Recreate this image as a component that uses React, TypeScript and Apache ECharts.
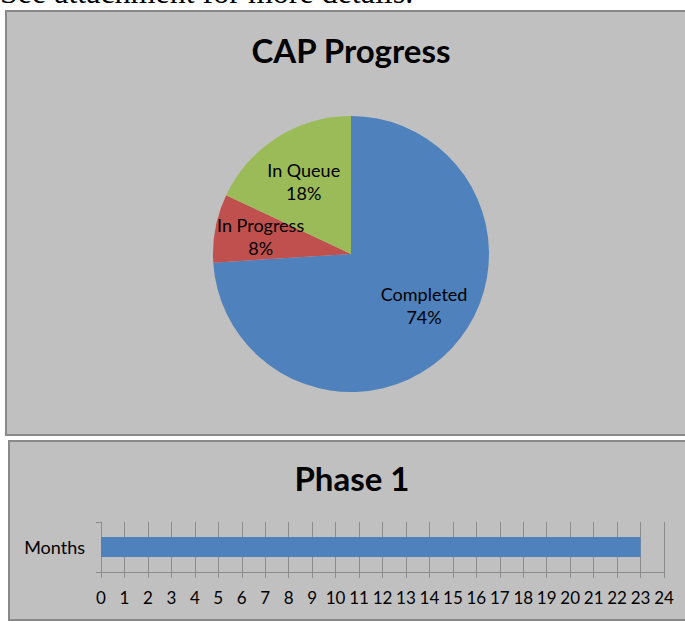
import React, { useEffect, useRef } from "react";
import * as echarts from "echarts";

const headerNote = "See attachment for more details.";
const pieTitle = "CAP Progress";
const pieNames = ["Completed", "In Progress", "In Queue"];
const pieValues = [74, 8, 18];
const pieColors = ["#4F81BD", "#C0504D", "#9BBB59"];
const barTitle = "Phase 1";
const barCategories = ["Months"];
const barValues = [23];
const axisMin = 0;
const axisMax = 24;
const axisStep = 1;

const FONT = "Lato, Carlito, 'Open Sans', sans-serif";
const PANEL = "#C0C0C0";
const BORDER = "#898989";
const GRID = "#8C8C8C";

function labelNudge(name: string): number[] {
  if (name === "Completed") return [6, -11];
  if (name === "In Queue") return [2, 5];
  return [0, 0];
}

export default function App() {
  const ref = useRef<HTMLDivElement>(null);
  useEffect(() => {
    if (!ref.current) return;
    const chart = echarts.init(ref.current, undefined, { renderer: "svg" });
    const pieData = pieNames.map((n, i) => ({
      name: n,
      value: pieValues[i],
      itemStyle: { color: pieColors[i] },
    }));
    const labelData = pieNames.map((n, i) => ({
      name: n,
      value: pieValues[i],
      itemStyle: { color: "rgba(0,0,0,0)" },
      label: { offset: labelNudge(n) },
    }));
    chart.setOption({
      animation: false,
      backgroundColor: "#ffffff",
      graphic: [
        {
          type: "rect",
          z: -10,
          shape: { x: 6, y: 11, width: 720, height: 424 },
          style: { fill: PANEL, stroke: BORDER, lineWidth: 2 },
          silent: true,
        },
        {
          type: "rect",
          z: -10,
          shape: { x: 9, y: 441, width: 720, height: 179 },
          style: { fill: PANEL, stroke: BORDER, lineWidth: 2 },
          silent: true,
        },
        {
          type: "text",
          x: 0,
          y: -8,
          style: {
            text: headerNote,
            font: "32px 'Liberation Serif', 'Times New Roman', serif",
            fill: "#000",
            textAlign: "left",
            textVerticalAlign: "middle",
          },
        },
        {
          type: "text",
          x: 351,
          y: 50,
          style: {
            text: pieTitle,
            font: `bold 33px ${FONT}`,
            fill: "#000",
            textAlign: "center",
            textVerticalAlign: "middle",
          },
        },
        {
          type: "text",
          x: 352,
          y: 478,
          style: {
            text: barTitle,
            font: `bold 33px ${FONT}`,
            fill: "#000",
            textAlign: "center",
            textVerticalAlign: "middle",
          },
        },
      ],
      grid: { left: 101, right: 21, top: 522, height: 50, containLabel: false },
      xAxis: {
        type: "value",
        min: axisMin,
        max: axisMax,
        interval: axisStep,
        axisLine: { show: true, lineStyle: { color: GRID, width: 1 } },
        axisTick: { show: true, length: 6, lineStyle: { color: GRID } },
        splitLine: { show: true, lineStyle: { color: GRID, width: 1 } },
        axisLabel: {
          show: true,
          margin: 17,
          interval: 0,
          hideOverlap: false,
          color: "#000",
          fontSize: 17,
          fontFamily: FONT,
        },
      },
      yAxis: {
        type: "category",
        data: barCategories,
        axisLine: { show: true, lineStyle: { color: GRID, width: 1 } },
        axisTick: { show: true, length: 5, lineStyle: { color: GRID } },
        axisLabel: { margin: 16, color: "#000", fontSize: 18, fontFamily: FONT },
      },
      series: [
        {
          type: "bar",
          data: barValues,
          barWidth: 20,
          itemStyle: { color: "#4F81BD" },
          silent: true,
        },
        {
          type: "pie",
          center: [351, 254],
          radius: [0, 138],
          startAngle: 90,
          clockwise: true,
          data: pieData,
          label: { show: false },
          labelLine: { show: false },
          silent: true,
          emphasis: { disabled: true },
        },
        {
          type: "pie",
          center: [351, 254],
          radius: [0, 178],
          startAngle: 90,
          clockwise: true,
          percentPrecision: 0,
          data: labelData,
          z: 5,
          label: {
            show: true,
            position: "inside",
            formatter: "{b}\n{d}%",
            color: "#000",
            fontSize: 18,
            fontFamily: FONT,
            lineHeight: 23,
            align: "center",
          },
          labelLine: { show: false },
          silent: true,
          emphasis: { disabled: true },
        },
      ],
    });
    return () => chart.dispose();
  }, []);
  return (
    <div
      ref={ref}
      style={{ position: "absolute", left: 0, top: 0, width: 685, height: 622 }}
    />
  );
}
